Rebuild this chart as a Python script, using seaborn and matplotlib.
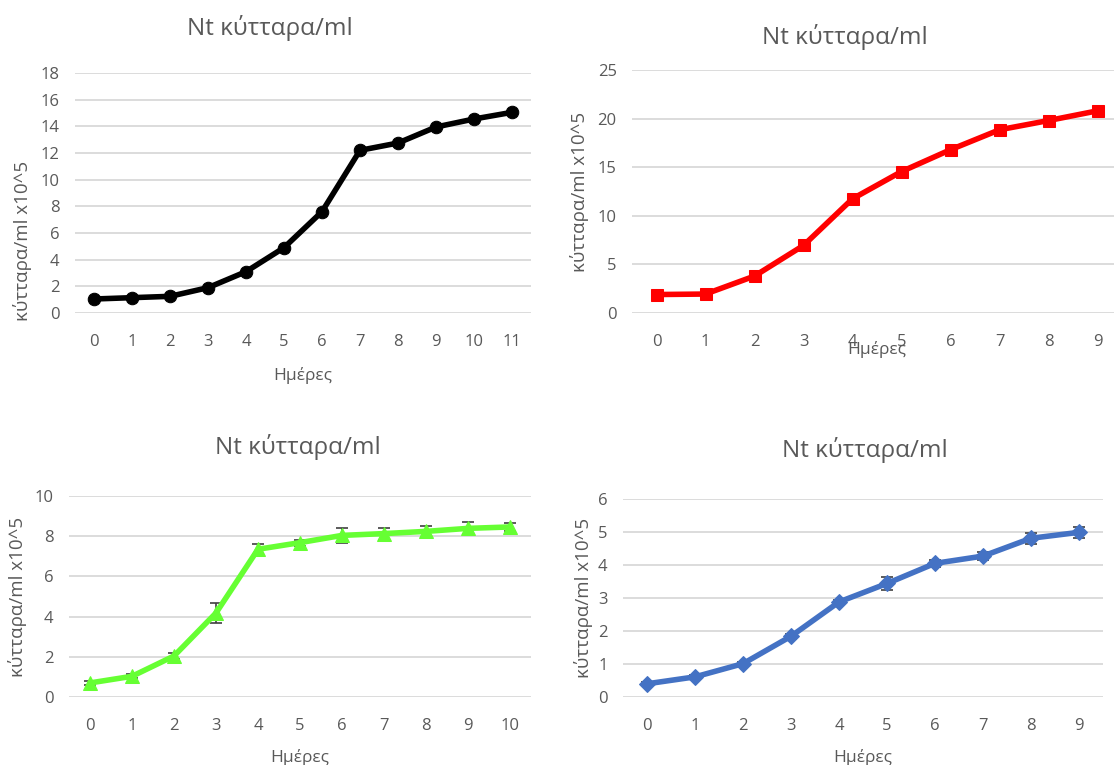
import numpy as np
import pandas as pd
import matplotlib
matplotlib.use('Agg')
import matplotlib.pyplot as plt
import seaborn as sns

# δεδομένα (ανάγνωση από το γράφημα)
days_a = list(range(12))
cells_a = [1.05, 1.15, 1.25, 1.9, 3.1, 4.9, 7.6, 12.2, 12.75, 13.95, 14.55, 15.05]

days_b = list(range(10))
cells_b = [1.9, 1.95, 3.8, 6.95, 11.75, 14.55, 16.8, 18.85, 19.8, 20.8]

days_c = list(range(11))
cells_c = [0.7, 1.03, 2.04, 4.18, 7.35, 7.68, 8.04, 8.13, 8.24, 8.39, 8.46]
err_c = [0.1, 0.1, 0.15, 0.5, 0.25, 0.15, 0.37, 0.3, 0.27, 0.3, 0.2]

days_d = list(range(10))
cells_d = [0.4, 0.61, 1.01, 1.84, 2.88, 3.44, 4.05, 4.27, 4.81, 4.99]
err_d = [0.05, 0.05, 0.06, 0.08, 0.06, 0.2, 0.1, 0.12, 0.17, 0.17]

title = 'Nt κύτταρα/ml'
xlab = 'Ημέρες'
ylab = 'κύτταρα/ml x10^5'

sns.set_theme(style='whitegrid')
plt.rcParams['font.family'] = ['Open Sans', 'DejaVu Sans']

GREY = '#595959'
W, H = 1114, 765
fig = plt.figure(figsize=(W / 100, H / 100), dpi=100)


def make_ax(left, right, top, bottom):
    return fig.add_axes([left / W, (H - bottom) / H, (right - left) / W, (bottom - top) / H])


def style(ax, ymax, ystep, n, title_x, title_dy, ylab_px, ylab_y, xlab_pad):
    ax.set_xlim(-0.5, n - 0.5)
    ax.set_ylim(0, ymax)
    ax.set_yticks(np.arange(0, ymax + 0.01, ystep))
    ax.set_xticks(range(n))
    ax.grid(axis='y', color='#d9d9d9', lw=1.3)
    ax.grid(axis='x', visible=False)
    for s in ax.spines.values():
        s.set_visible(False)
    ax.tick_params(axis='both', colors=GREY, labelsize=12, length=0)
    ax.tick_params(axis='y', pad=11)
    ax.tick_params(axis='x', pad=15)
    ax.set_xlabel(xlab, color=GREY, fontsize=12.5, labelpad=xlab_pad)
    ax.set_ylabel(ylab, color=GREY, fontsize=13.5)
    bbox = ax.get_position()
    # θέση ετικέτας y σε pixels από την αριστερή άκρη του άξονα
    ax.yaxis.set_label_coords(ylab_px / (bbox.width * W), ylab_y)
    ax.text(title_x, 1 + title_dy / (bbox.height * H), title, transform=ax.transAxes,
            ha='center', va='center', fontsize=17.5, color=GREY)


# πάνω αριστερά
ax1 = make_ax(75, 531, 73, 313)
sns.lineplot(x=days_a, y=cells_a, ax=ax1, color='black', lw=4,
             marker='o', markersize=9, markeredgecolor='black')
style(ax1, 18, 2, len(days_a), 0.428, 45, 32 - 75, 0.3, 12)

# πάνω δεξιά (η ετικέτα Ημέρες πέφτει πάνω στους αριθμούς όπως στο πρωτότυπο)
ax2 = make_ax(632, 1122, 70, 313)
sns.lineplot(x=days_b, y=cells_b, ax=ax2, color='#ff0000', lw=4,
             marker='s', markersize=9, markeredgecolor='#ff0000')
style(ax2, 25, 5, len(days_b), 0.435, 33, 589 - 632, 0.5, -6)

# κάτω αριστερά
ax3 = make_ax(69, 531, 496, 697)
ax3.errorbar(days_c, cells_c, yerr=err_c, fmt='none', ecolor='#404040',
             elinewidth=1.2, capsize=4, capthick=1.2, zorder=1)
sns.lineplot(x=days_c, y=cells_c, ax=ax3, color='#66ff33', lw=4,
             marker='^', markersize=10, markeredgecolor='#66ff33', zorder=2)
style(ax3, 10, 2, len(days_c), 0.496, 49, 27 - 69, 0.5, 11)

# κάτω δεξιά
ax4 = make_ax(623, 1103, 499, 697)
ax4.errorbar(days_d, cells_d, yerr=err_d, fmt='none', ecolor='#404040',
             elinewidth=1.2, capsize=4, capthick=1.2, zorder=1)
sns.lineplot(x=days_d, y=cells_d, ax=ax4, color='#4472c4', lw=4,
             marker='D', markersize=8, markeredgecolor='#4472c4', zorder=2)
style(ax4, 6, 1, len(days_d), 0.504, 49, 593 - 623, 0.5, 11)

fig.savefig('out.png', dpi=100, facecolor='white')
